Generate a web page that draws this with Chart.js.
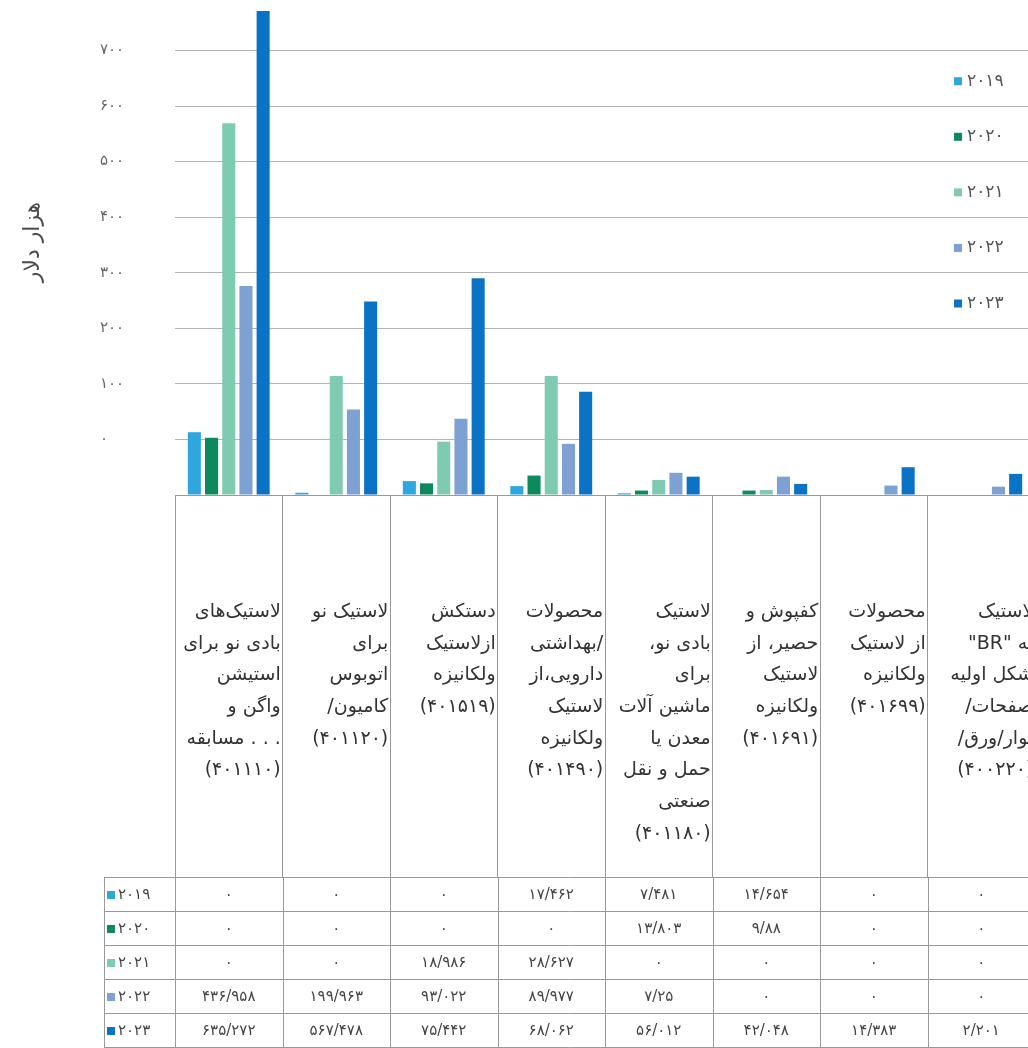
<!DOCTYPE html>
<html lang="fa">
<head>
<meta charset="utf-8">
<title>chart</title>
<script src="https://cdn.jsdelivr.net/npm/chart.js@4.4.1/dist/chart.umd.min.js"></script>
<style>
  html, body { margin: 0; padding: 0; background: #ffffff; overflow: hidden; }
  #chart { position: absolute; left: 0; top: 0; direction: rtl; }
</style>
</head>
<body>
<canvas id="chart" width="1040" height="1048"></canvas>
<script>
// Categories (each label split in lines, as in the picture)
const categories = [
    ["لاستیک‌های", "بادی نو برای", "استیشن", "واگن و", ". . . مسابقه", "(۴۰۱۱۱۰)"],
    ["لاستیک نو", "برای", "اتوبوس", "کامیون/", "(۴۰۱۱۲۰)"],
    ["دستکش", "ازلاستیک", "ولکانیزه", "(۴۰۱۵۱۹)"],
    ["محصولات", "/بهداشتی", "دارویی،از", "لاستیک", "ولکانیزه", "(۴۰۱۴۹۰)"],
    ["لاستیک", "بادی نو،", "برای", "ماشین آلات", "معدن یا", "حمل و نقل", "صنعتی", "(۴۰۱۱۸۰)"],
    ["کفپوش و", "حصیر، از", "لاستیک", "ولکانیزه", "(۴۰۱۶۹۱)"],
    ["محصولات", "از لاستیک", "ولکانیزه", "(۴۰۱۶۹۹)"],
    ["لاستیک", "به \"BR\"", "شکل اولیه", "صفحات/", "نوار/ورق/", "(۴۰۰۲۲۰)"]
];

const years = ["۲۰۱۹", "۲۰۲۰", "۲۰۲۱", "۲۰۲۲", "۲۰۲۳"];

// Bar heights as read on the drawn axis (bars start at the bottom line, -100)
const bars2019 = [13, -96, -75, -84, -97, -100, -100, -100];
const bars2020 = [3, -100, -79, -65, -92, -92, -100, -100];
const bars2021 = [569, 114, -4, 114, -73, -91, -100, -100];
const bars2022 = [276, 54, 37, -8, -60, -67, -83, -85];
const bars2023 = [771, 248, 290, 86, -67, -80, -50, -62];

// Values printed in the data table under the chart
const table2019 = [0, 0, 0, 17.462, 7.481, 14.654, 0, 0];
const table2020 = [0, 0, 0, 0, 13.803, 9.88, 0, 0];
const table2021 = [0, 0, 18.986, 28.627, 0, 0, 0, 0];
const table2022 = [436.958, 199.963, 93.022, 89.977, 7.25, 0, 0, 0];
const table2023 = [635.272, 567.478, 75.442, 68.062, 56.012, 42.048, 14.383, 2.201];

const yTicks = [0, 100, 200, 300, 400, 500, 600, 700];

const colors = ["#2ea6de", "#0c8a5e", "#7fcbb1", "#7ea1d4", "#0b73c5"];

const faDigits = "۰۱۲۳۴۵۶۷۸۹";
function toFa(v) {
    return String(v).replace(/\d/g, d => faDigits[d]).replace(".", "/");
}

const font = "DejaVu Sans";
const barSeries = [bars2019, bars2020, bars2021, bars2022, bars2023];
const tableRows = [table2019, table2020, table2021, table2022, table2023];

// y title, legend and the table below the axis
const extras = {
    id: "extras",
    afterDraw(chart) {
        const ctx = chart.ctx;
        const x = chart.scales.x;
        const y = chart.scales.y;
        ctx.save();

        // axis title
        ctx.save();
        ctx.translate(33, 242);
        ctx.rotate(-Math.PI / 2);
        ctx.font = "22px '" + font + "'";
        ctx.fillStyle = "#4a4a4a";
        ctx.textAlign = "center";
        ctx.textBaseline = "middle";
        ctx.fillText("هزار دلار", 0, 0);
        ctx.restore();

        // legend, one entry between each pair of grid lines
        ctx.font = "17px '" + font + "'";
        ctx.textBaseline = "middle";
        ctx.textAlign = "left";
        chart.data.datasets.forEach((ds, i) => {
            const ly = y.getPixelForValue(650 - 100 * i) + 3;
            ctx.fillStyle = ds.backgroundColor;
            ctx.fillRect(954, ly - 4, 8, 8);
            ctx.fillStyle = "#555";
            ctx.fillText(ds.label, 967, ly);
        });

        // data table
        const n = categories.length;
        const colW = (x.right - x.left) / n;
        const top = x.bottom;
        const rowH = 34;
        const keyLeft = 104;
        ctx.strokeStyle = "#999";
        ctx.lineWidth = 1;
        ctx.beginPath();
        for (let r = 0; r <= tableRows.length; r++) {
            const ry = Math.round(top + r * rowH) + 0.5;
            ctx.moveTo(keyLeft, ry);
            ctx.lineTo(x.right, ry);
        }
        const vLines = [keyLeft];
        for (let i = 0; i <= n; i++) vLines.push(x.left + i * colW);
        vLines.forEach(vx => {
            const px = Math.round(vx) + 0.5;
            ctx.moveTo(px, top);
            ctx.lineTo(px, top + tableRows.length * rowH);
        });
        ctx.stroke();

        ctx.font = "15px '" + font + "'";
        tableRows.forEach((row, r) => {
            const cy = top + r * rowH + rowH / 2 + 1;
            ctx.fillStyle = colors[r];
            ctx.fillRect(107, cy - 4, 8, 8);
            ctx.fillStyle = "#444";
            ctx.textAlign = "left";
            ctx.fillText(years[r], 118, cy);
            ctx.textAlign = "center";
            row.forEach((v, i) => {
                ctx.fillText(toFa(v), x.getPixelForValue(i), cy);
            });
        });
        ctx.restore();
    }
};

new Chart(document.getElementById("chart"), {
    type: "bar",
    plugins: [extras],
    data: {
        labels: categories,
        datasets: barSeries.map((vals, i) => ({
            label: years[i],
            data: vals,
            base: -100,
            backgroundColor: colors[i],
            borderWidth: 0,
            barPercentage: 0.76,
            categoryPercentage: 0.8
        }))
    },
    options: {
        responsive: false,
        animation: false,
        layout: { padding: { left: 100, right: 5, top: 1, bottom: 171 } },
        plugins: {
            legend: { display: false },
            tooltip: { enabled: false }
        },
        scales: {
            x: {
                grid: {
                    offset: true,
                    drawOnChartArea: false,
                    drawTicks: true,
                    tickLength: 382,
                    color: "#999"
                },
                border: { display: true, color: "#999" },
                ticks: {
                    autoSkip: false,
                    maxRotation: 0,
                    minRotation: 0,
                    align: "end",
                    labelOffset: 52,
                    padding: -281,
                    color: "#333",
                    font: { family: font, size: 19, lineHeight: 1.67 }
                },
                afterFit(s) {
                    s.height = 382;
                    s.paddingLeft = 0;
                    s.paddingRight = 0;
                }
            },
            y: {
                min: -100,
                max: 789,
                grid: { color: "#b3b3b3", drawTicks: false },
                border: { display: false },
                ticks: {
                    stepSize: 100,
                    includeBounds: false,
                    crossAlign: "far",
                    padding: 0,
                    color: "#666",
                    font: { family: font, size: 15 },
                    callback: v => yTicks.includes(v) ? toFa(v) : ""
                },
                afterFit(s) {
                    s.width = 75;
                    s.paddingTop = 0;
                    s.paddingBottom = 0;
                }
            }
        }
    }
});
</script>
</body>
</html>
